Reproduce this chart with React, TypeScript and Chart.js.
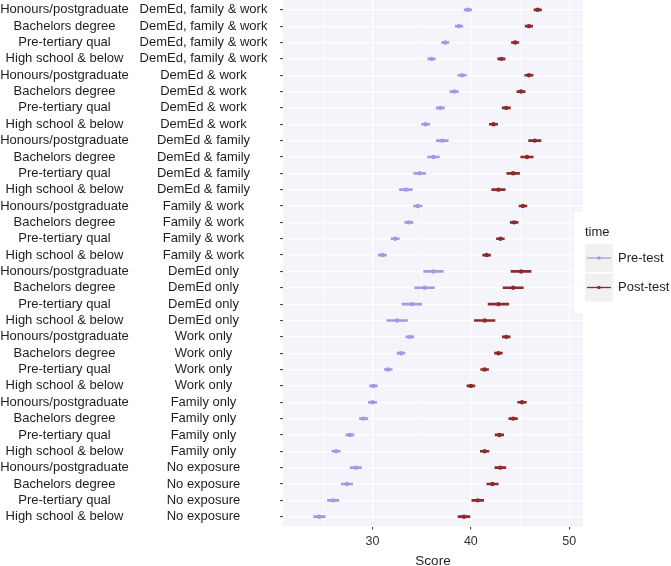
import React, { useEffect, useRef } from "react";
import { Chart, registerables } from "chart.js";

Chart.register(...registerables);

const educationLevels = [
  "Honours/postgraduate",
  "Bachelors degree",
  "Pre-tertiary qual",
  "High school & below",
];

const exposureGroups = [
  "DemEd, family & work",
  "DemEd & work",
  "DemEd & family",
  "Family & work",
  "DemEd only",
  "Work only",
  "Family only",
  "No exposure",
];

const seriesNames = ["Pre-test", "Post-test"];
const legendTitle = "time";
const xAxisTitle = "Score";

// row order: exposure group (outer) x education level (inner), top to bottom
const preMean = [
  39.7, 38.8, 37.4, 36.0,
  39.1, 38.3, 36.9, 35.4,
  37.1, 36.2, 34.8, 33.4,
  34.6, 33.7, 32.3, 31.0,
  36.2, 35.3, 34.0, 32.5,
  33.8, 32.9, 31.6, 30.1,
  30.0, 29.1, 27.7, 26.3,
  28.3, 27.4, 26.0, 24.6,
];
const preErr = [
  0.38, 0.38, 0.38, 0.38,
  0.42, 0.42, 0.42, 0.42,
  0.6, 0.6, 0.6, 0.65,
  0.42, 0.42, 0.42, 0.42,
  1.0, 1.0, 1.0, 1.05,
  0.4, 0.4, 0.4, 0.4,
  0.42, 0.42, 0.42, 0.42,
  0.58, 0.58, 0.58, 0.59,
];
const postMean = [
  46.8, 45.9, 44.5, 43.1,
  45.9, 45.1, 43.6, 42.3,
  46.5, 45.7, 44.3, 42.8,
  45.3, 44.4, 43.0, 41.6,
  45.1, 44.3, 42.8, 41.4,
  43.6, 42.8, 41.4, 40.0,
  45.2, 44.3, 42.9, 41.4,
  43.0, 42.2, 40.7, 39.3,
];
const postErr = [
  0.38, 0.38, 0.38, 0.38,
  0.42, 0.42, 0.42, 0.42,
  0.63, 0.63, 0.65, 0.68,
  0.4, 0.4, 0.4, 0.4,
  1.02, 1.03, 1.05, 1.05,
  0.4, 0.4, 0.4, 0.4,
  0.44, 0.44, 0.44, 0.44,
  0.56, 0.58, 0.6, 0.6,
];

const xTickValues = [25, 30, 35, 40, 45, 50];
const xTickLabels = ["", "30", "", "40", "", "50"];

const rows = exposureGroups.flatMap((g) =>
  educationLevels.map((e) => ({ edu: e, exp: g }))
);

const FONT = "'Liberation Sans', Arial, Helvetica, sans-serif";
const PRE = "#9e9ce4";
const POST = "#8b2c2c";
const PANEL = "#F5F4FB";

export default function App() {
  const ref = useRef<HTMLCanvasElement>(null);

  useEffect(() => {
    if (!ref.current) return;
    const idx = rows.map((_, i) => i);
    const colors = [PRE, POST];

    const ggPlugin = {
      id: "ggstyle",
      beforeDraw(chart: any) {
        const { ctx, chartArea: a } = chart;
        ctx.save();
        ctx.fillStyle = PANEL;
        ctx.fillRect(a.left, a.top, a.right - a.left, a.bottom - a.top);
        ctx.restore();
      },
      afterDraw(chart: any) {
        const { ctx } = chart;
        const ys = chart.scales.y;
        ctx.save();
        // y-axis two-column labels
        ctx.font = `13px ${FONT}`;
        ctx.fillStyle = "#1e1e1e";
        ctx.textAlign = "center";
        ctx.textBaseline = "middle";
        rows.forEach((r, i) => {
          const y = ys.getPixelForValue(i);
          ctx.fillText(r.edu, 64.5, y);
          ctx.fillText(r.exp, 203.5, y);
        });

        // legend
        const lx = 574, ly = 212, lw = 100, lh = 101;
        ctx.fillStyle = "#ffffff";
        ctx.fillRect(lx, ly, lw, lh);
        ctx.fillStyle = "#1e1e1e";
        ctx.textAlign = "left";
        ctx.font = `13px ${FONT}`;
        ctx.fillText(legendTitle, 585, 232);
        seriesNames.forEach((name, k) => {
          const ky = 244 + k * 29.5;
          ctx.fillStyle = "#F1F1F1";
          ctx.fillRect(585, ky, 28, 28);
          const cy = ky + 14;
          ctx.strokeStyle = colors[k];
          ctx.lineWidth = 1.3;
          ctx.beginPath();
          ctx.moveTo(587, cy);
          ctx.lineTo(611, cy);
          ctx.stroke();
          ctx.fillStyle = colors[k];
          ctx.beginPath();
          ctx.arc(599, cy, 1.8, 0, Math.PI * 2);
          ctx.fill();
          ctx.fillStyle = "#1e1e1e";
          ctx.fillText(name, 618, cy);
        });
        ctx.restore();
      },
    };

    const chart = new Chart(ref.current, {
      type: "bar",
      data: {
        datasets: [
          {
            type: "scatter",
            label: seriesNames[0],
            data: idx.map((i) => ({ x: preMean[i], y: i })),
            backgroundColor: PRE,
            borderColor: PRE,
            borderWidth: 0,
            pointRadius: 2.2,
          },
          {
            type: "scatter",
            label: seriesNames[1],
            data: idx.map((i) => ({ x: postMean[i], y: i })),
            backgroundColor: POST,
            borderColor: POST,
            borderWidth: 0,
            pointRadius: 2.2,
          },
          {
            type: "bar",
            label: seriesNames[0] + " range",
            data: idx.map((i) => ({ y: i, x: [preMean[i] - preErr[i], preMean[i] + preErr[i]] })),
            backgroundColor: PRE,
            borderWidth: 0,
            barThickness: 2,
            grouped: false,
          },
          {
            type: "bar",
            label: seriesNames[1] + " range",
            data: idx.map((i) => ({ y: i, x: [postMean[i] - postErr[i], postMean[i] + postErr[i]] })),
            backgroundColor: POST,
            borderWidth: 0,
            barThickness: 2,
            grouped: false,
          },
        ] as any,
      },
      options: {
        indexAxis: "y",
        animation: false,
        responsive: true,
        maintainAspectRatio: false,
        layout: { autoPadding: false, padding: { left: 0, right: 88, top: 0, bottom: 0 } },
        plugins: {
          legend: { display: false },
          tooltip: { enabled: false },
          title: { display: false },
        },
        scales: {
          x: {
            type: "linear",
            position: "bottom",
            min: 20.9,
            max: 51.4,
            afterBuildTicks: (s: any) => {
              s.ticks = xTickValues.map((v) => ({ value: v }));
            },
            afterFit: (s: any) => {
              s.height = 39.5;
            },
            ticks: {
              callback: (_v: any, i: number) => xTickLabels[i],
              font: { family: FONT, size: 12.5 },
              color: "#333333",
              padding: 5,
              maxRotation: 0,
              autoSkip: false,
            },
            grid: {
              color: "#ffffff",
              lineWidth: (c: any) => (xTickLabels[c.index] ? 1.2 : 0.6),
              drawTicks: true,
              tickLength: 3,
              tickWidth: 1,
              tickColor: (c: any) => (xTickLabels[c.index] ? "#333333" : "rgba(0,0,0,0)"),
            },
            border: { display: false },
            title: {
              display: true,
              text: xAxisTitle,
              font: { family: FONT, size: 13.5, lineHeight: 0.77 },
              color: "#1e1e1e",
              padding: { top: 0, bottom: 0 },
            },
          },
          y: {
            type: "linear",
            position: "left",
            min: -0.6,
            max: rows.length - 1 + 0.6,
            reverse: true,
            offset: false,
            afterBuildTicks: (s: any) => {
              s.ticks = idx.map((v) => ({ value: v }));
            },
            afterFit: (s: any) => {
              s.width = 283;
              s.paddingTop = 0;
              s.paddingBottom = 0;
            },
            ticks: {
              display: false,
              autoSkip: false,
            },
            grid: {
              offset: false,
              color: "#ffffff",
              lineWidth: 1.2,
              drawTicks: true,
              tickLength: 3,
              tickWidth: 1,
              tickColor: "#333333",
            },
            border: { display: false },
          },
        },
      } as any,
      plugins: [ggPlugin],
    });

    return () => chart.destroy();
  }, []);

  return (
    <div style={{ position: "absolute", left: 0, top: 0, width: 671, height: 566 }}>
      <canvas ref={ref} />
    </div>
  );
}
